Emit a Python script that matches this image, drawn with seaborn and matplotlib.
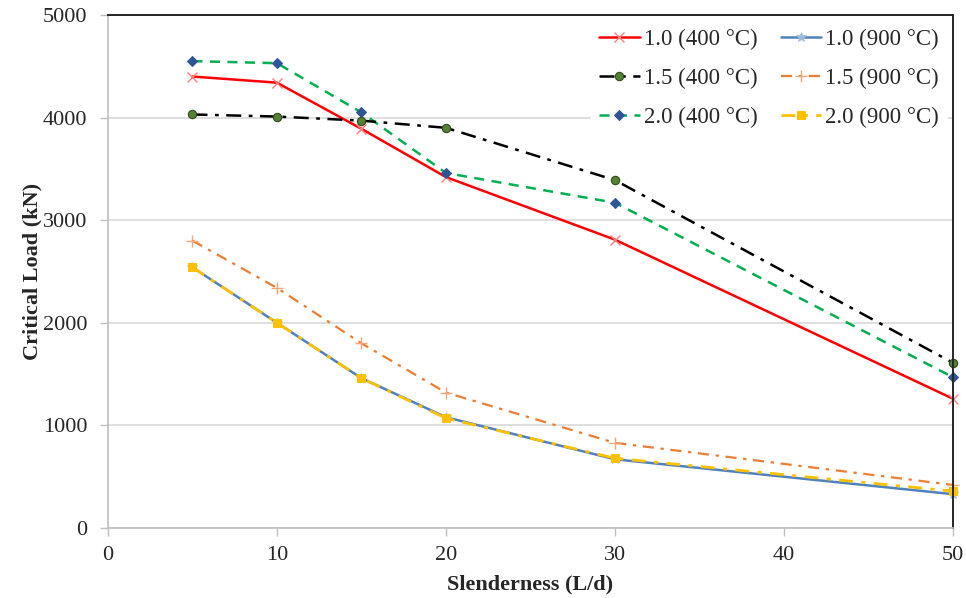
import numpy as np
import pandas as pd
import seaborn as sns
import matplotlib.pyplot as plt

slenderness = [5, 10, 15, 20, 30, 50]

load_10_400 = [4400, 4340, 3890, 3420, 2810, 1260]
load_15_400 = [4030, 4010, 3970, 3900, 3390, 1610]
load_20_400 = [4550, 4530, 4050, 3460, 3170, 1470]
load_10_900 = [2540, 2000, 1460, 1080, 670, 330]
load_15_900 = [2800, 2340, 1800, 1320, 830, 420]
load_20_900 = [2540, 2000, 1460, 1070, 680, 360]

labels = ['1.0 (400 °C)', '1.5 (400 °C)', '2.0 (400 °C)',
          '1.0 (900 °C)', '1.5 (900 °C)', '2.0 (900 °C)']
series = [load_10_400, load_15_400, load_20_400, load_10_900, load_15_900, load_20_900]

sns.set_style('white')
plt.rcParams['font.family'] = ['Liberation Serif', 'DejaVu Serif']

# line style, marker settings per series
styles = [
    dict(color='#FF0000', linestyle='-', linewidth=1.8, marker='x', markersize=7,
         markeredgecolor='#FF7F7F', markerfacecolor='#FF7F7F', markeredgewidth=1.0),
    dict(color='black', linestyle=(0, (6, 3, 1.5, 3)), linewidth=1.8, marker='o', markersize=6,
         markerfacecolor='#548235', markeredgecolor='#2E4A1E', markeredgewidth=0.8),
    dict(color='#00B050', linestyle=(0, (4, 3)), linewidth=1.8, marker='D', markersize=5,
         markerfacecolor='#2F5597', markeredgecolor='#2F5597'),
    dict(color='#4F81BD', linestyle='-', linewidth=1.8, marker='*', markersize=7,
         markerfacecolor='#9DB9DC', markeredgecolor='#9DB9DC', markeredgewidth=0.6),
    dict(color='#ED7D31', linestyle=(0, (5, 3, 1.5, 3)), linewidth=1.6, marker='+', markersize=8,
         markeredgecolor='#F4A67A', markeredgewidth=1.0),
    dict(color='#FFC000', linestyle=(0, (5, 3, 1.5, 3)), linewidth=2.0, marker='s', markersize=6,
         markerfacecolor='#FFC000', markeredgecolor='#FFC000'),
]

fig = plt.figure(figsize=(9.66, 5.98), dpi=100)
ax = fig.add_axes([0.1118, 0.117, 0.8747, 0.858])

draw_order = [3, 5, 4, 0, 2, 1]
for i in draw_order:
    df = pd.DataFrame({'x': slenderness, 'y': series[i]})
    sns.lineplot(data=df, x='x', y='y', ax=ax, label=labels[i], clip_on=False, **styles[i])

ax.set_xlim(0, 50)
ax.set_ylim(0, 5000)
ax.set_xticks(np.arange(0, 51, 10))
ax.set_yticks(np.arange(0, 5001, 1000))
ax.yaxis.grid(True, color='#D9D9D9', linewidth=1.2)
ax.set_axisbelow(True)

for s in ['left', 'bottom']:
    ax.spines[s].set_color('#BFBFBF')
    ax.spines[s].set_linewidth(1.2)
for s in ['top', 'right']:
    ax.spines[s].set_color('#262626')
    ax.spines[s].set_linewidth(1.4)

ax.tick_params(axis='both', which='major', labelsize=16, length=6, width=1.0,
               color='#BFBFBF', direction='out', bottom=True, left=True)
ax.tick_params(axis='x', pad=7)
ax.tick_params(axis='y', pad=9)

ax.set_xlabel('Slenderness (L/d)', fontsize=16, fontweight='bold', labelpad=7)
ax.set_ylabel('Critical Load (kN)', fontsize=16, fontweight='bold', labelpad=0)

handles, lbls = ax.get_legend_handles_labels()
hmap = dict(zip(lbls, handles))
leg = ax.legend([hmap[l] for l in labels], labels, ncol=2, loc='upper right',
                prop={'size': 16.5}, frameon=True, fancybox=False, framealpha=1,
                edgecolor='white', handlelength=1.75, handletextpad=0.2,
                columnspacing=1.0, labelspacing=0.78, borderaxespad=0.25,
                borderpad=0.35)
leg.set_zorder(5)

fig.savefig('out.png', dpi=100)
